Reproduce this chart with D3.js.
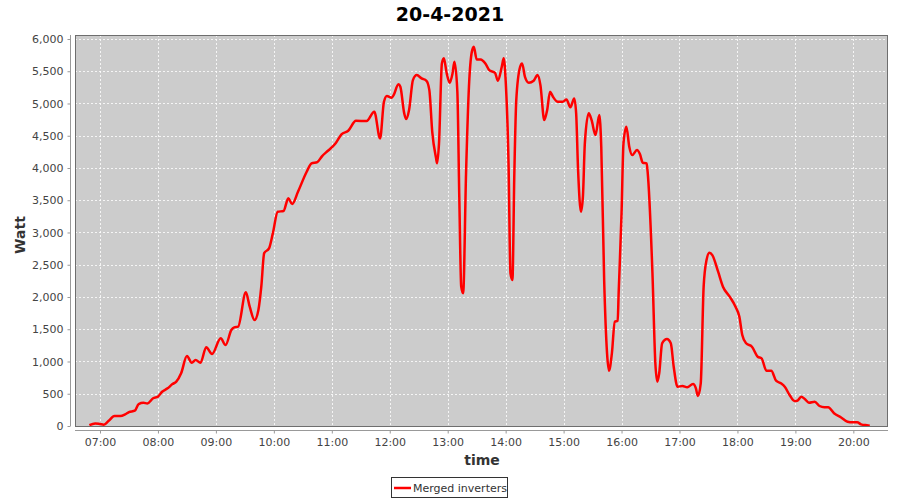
<!DOCTYPE html>
<html><head><meta charset="utf-8">
<script src="https://cdn.jsdelivr.net/npm/d3@7"></script>
<style>body{margin:0;background:#fff}svg{display:block}</style>
</head><body><svg id="c" width="900" height="500"></svg>
<script>
const chartTitle = "20-4-2021";
const seriesName = "Merged inverters";
const yLabel = "Watt";
const xLabel = "time";
const times = ["06:49","06:55","07:00","07:04","07:09","07:15","07:21","07:26","07:30","07:36","07:40","07:45","07:49","07:55","08:00","08:04","08:10","08:15","08:19","08:24","08:30","08:35","08:39","08:44","08:50","08:56","09:05","09:10","09:16","09:19","09:23","09:31","09:35","09:40","09:44","09:47","09:50","09:55","09:59","10:04","10:10","10:15","10:19","10:25","10:34","10:39","10:45","10:50","10:56","11:04","11:10","11:17","11:25","11:36","11:44","11:50","11:54","11:57","12:02","12:04","12:09","12:11","12:15","12:17","12:20","12:24","12:28","12:33","12:38","12:41","12:44","12:48","12:49","12:51","12:54","12:56","12:59","13:02","13:05","13:07","13:10","13:12","13:14","13:16","13:19","13:22","13:25","13:27","13:30","13:34","13:39","13:43","13:49","13:52","13:56","13:58","14:00","14:03","14:05","14:07","14:09","14:11","14:15","14:17","14:20","14:24","14:29","14:33","14:36","14:40","14:43","14:46","14:49","14:54","14:59","15:03","15:07","15:11","15:13","15:15","15:18","15:20","15:22","15:26","15:29","15:33","15:37","15:39","15:42","15:45","15:47","15:50","15:53","15:56","15:57","16:00","16:02","16:05","16:08","16:11","16:16","16:19","16:22","16:26","16:27","16:32","16:35","16:37","16:39","16:42","16:47","16:51","16:54","16:58","17:03","17:08","17:14","17:17","17:19","17:22","17:25","17:28","17:31","17:34","17:40","17:45","17:52","17:58","18:02","18:05","18:09","18:15","18:21","18:25","18:30","18:35","18:40","18:45","18:49","18:54","18:59","19:02","19:06","19:10","19:14","19:20","19:25","19:30","19:34","19:40","19:47","19:54","19:59","20:04","20:08","20:14","20:17"];
const watts = [15,40,30,20,80,155,155,180,215,237,340,360,350,430,455,527,584,650,687,817,1085,980,1023,980,1220,1116,1360,1255,1488,1530,1540,2072,1850,1643,1798,2160,2680,2754,2990,3322,3333,3530,3441,3632,3942,4072,4092,4185,4267,4382,4521,4577,4732,4728,4872,4459,5027,5115,5089,5130,5300,5260,4847,4758,4898,5363,5440,5389,5352,5208,4561,4149,4072,4382,5622,5700,5467,5322,5467,5647,5182,3555,2160,2057,3917,5260,5802,5880,5684,5684,5622,5518,5476,5352,5570,5700,5363,4072,2367,2263,3917,5053,5570,5622,5414,5322,5352,5440,5285,4743,4900,5182,5104,5027,5027,5063,4940,5079,4847,3968,3322,3555,4382,4847,4743,4510,4820,4329,2263,1127,857,1127,1617,1632,2057,3297,4382,4640,4329,4200,4278,4216,4081,4072,3942,2367,972,687,817,1282,1348,1282,919,609,620,600,651,584,465,662,2160,2573,2686,2650,2392,2160,2005,1849,1694,1410,1282,1229,1074,1049,857,857,702,662,609,480,388,392,454,414,361,377,310,290,290,197,135,67,57,57,26,11,5];
const xTickLabels = ["07:00","08:00","09:00","10:00","11:00","12:00","13:00","14:00","15:00","16:00","17:00","18:00","19:00","20:00"];
const yTicks = [0,500,1000,1500,2000,2500,3000,3500,4000,4500,5000,5500,6000];

const parse = s => { const [h,m] = s.split(":").map(Number); return new Date(2021,3,20,h,m); };
const data = times.map((t,i)=>({t:parse(t), v:watts[i]}));

const svg = d3.select("#c");
const L=75, R=888, T=35, B=426;
const x = d3.scaleTime().domain([new Date(2021,3,20,6,34,7), new Date(2021,3,20,20,35,53)]).range([L,R]);
const y = d3.scaleLinear().domain([0,6062]).range([B,T]);
const font = "DejaVu Sans, sans-serif";

// plot background
svg.append("rect").attr("x",L).attr("y",T).attr("width",R-L).attr("height",B-T).attr("fill","#cccccc");

// grid
const xt = xTickLabels.map(parse);
svg.append("g").selectAll("line").data(xt).join("line")
  .attr("x1",d=>Math.round(x(d))+0.5).attr("x2",d=>Math.round(x(d))+0.5).attr("y1",T).attr("y2",B)
  .attr("stroke","#fff").attr("stroke-width",0.8).attr("stroke-dasharray","2,2");
svg.append("g").selectAll("line").data(yTicks).join("line")
  .attr("x1",L).attr("x2",R).attr("y1",d=>Math.round(y(d))+0.5).attr("y2",d=>Math.round(y(d))+0.5)
  .attr("stroke","#fff").attr("stroke-width",0.8).attr("stroke-dasharray","2,2");

// line
const line = d3.line().x(d=>x(d.t)).y(d=>y(d.v)).curve(d3.curveMonotoneX);
svg.append("path").datum(data).attr("d",line).attr("fill","none").attr("stroke","#ff0000").attr("stroke-width",2.5).attr("stroke-linejoin","round");

// plot border
svg.append("rect").attr("x",L+0.5).attr("y",T+0.5).attr("width",R-L-1).attr("height",B-T).attr("fill","none").attr("stroke","#6e6e6e").attr("stroke-width",1);

// axes
const yAxis = svg.append("g").attr("transform",`translate(${L-4.5},0)`)
  .call(d3.axisLeft(y).tickValues(yTicks).tickFormat(d3.format(",")).tickSize(3).tickPadding(4));
yAxis.select(".domain").attr("d",`M0,${T}V${B}`).attr("stroke","#999");
const xAxis = svg.append("g").attr("transform",`translate(0,${B+4.5})`)
  .call(d3.axisBottom(x).tickValues(xt).tickFormat(d3.timeFormat("%H:%M")).tickSize(3).tickPadding(5));
xAxis.select(".domain").attr("d",`M${L},0H${R}`).attr("stroke","#999");
svg.selectAll(".tick line").attr("stroke","#999");
svg.selectAll(".tick text").attr("fill","#444").style("font-family",font).style("font-size","11px");

// titles
svg.append("text").attr("x",450).attr("y",21).attr("text-anchor","middle")
  .style("font-family",font).style("font-weight","bold").style("font-size","19px").text(chartTitle);
svg.append("text").attr("transform","translate(25,235) rotate(-90)").attr("text-anchor","middle")
  .attr("fill","#333").style("font-family",font).style("font-weight","bold").style("font-size","14px").text(yLabel);
svg.append("text").attr("x",482).attr("y",465).attr("text-anchor","middle")
  .attr("fill","#333").style("font-family",font).style("font-weight","bold").style("font-size","14px").text(xLabel);

// legend
const lg = svg.append("g");
lg.append("rect").attr("x",391.5).attr("y",477.5).attr("width",116).attr("height",20).attr("fill","#fff").attr("stroke","#333");
lg.append("line").attr("x1",394).attr("x2",411).attr("y1",488).attr("y2",488).attr("stroke","#ff0000").attr("stroke-width",2.5);
lg.append("text").attr("x",413).attr("y",492).attr("fill","#333").style("font-family",font).style("font-size","11px").text(seriesName);
</script></body></html>
